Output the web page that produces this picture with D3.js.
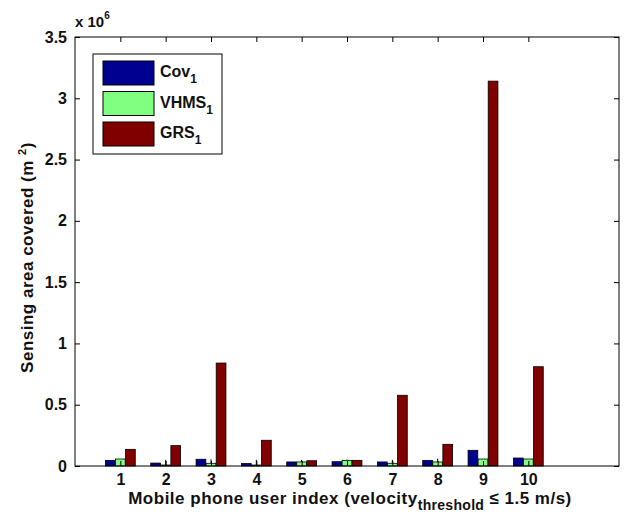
<!DOCTYPE html>
<html>
<head>
<meta charset="utf-8">
<script src="https://cdn.jsdelivr.net/npm/d3@7"></script>
<style>
  html, body { margin: 0; padding: 0; background: #fff; }
  svg { display: block; font-family: "Liberation Sans", Arial, sans-serif; font-weight: bold; }
</style>
</head>
<body>
<svg id="chart" width="633" height="518"></svg>
<script>
// Mobile phone user index (x categories)
const users = [1, 2, 3, 4, 5, 6, 7, 8, 9, 10];
// Sensing area covered, in units of 10^6 m^2
const cov1  = [0.046, 0.024, 0.055, 0.020, 0.033, 0.035, 0.033, 0.046, 0.128, 0.065];
const vhms1 = [0.057, 0.008, 0.022, 0.008, 0.033, 0.046, 0.022, 0.033, 0.057, 0.057];
const grs1  = [0.136, 0.166, 0.840, 0.210, 0.043, 0.046, 0.577, 0.177, 3.140, 0.810];
// Upper whisker ends drawn over the VHMS bars (null = none)
const vhmsErrTop = [null, 0.050, 0.055, 0.050, 0.050, 0.052, 0.050, 0.060, null, null];
const seriesNames = ["Cov", "VHMS", "GRS"];
const seriesColors = ["#000090", "#80ff80", "#800000"];
const yTicks = [0, 0.5, 1, 1.5, 2, 2.5, 3, 3.5];

const svg = d3.select("#chart");
const plotL = 75, plotR = 619, plotT = 37, plotB = 466;

const x = d3.scaleLinear().domain([0, 12]).range([plotL, plotR]);
const y = d3.scaleLinear().domain([0, 3.5]).range([plotB, plotT]);

const series = [cov1, vhms1, grs1];
const step = 0.222, barW = 0.215;

// bars
series.forEach((vals, si) => {
  svg.append("g").selectAll("rect")
    .data(vals)
    .join("rect")
    .attr("x", (d, i) => x(users[i] + (si - 1) * step - barW / 2))
    .attr("width", x(barW) - x(0))
    .attr("y", d => y(d))
    .attr("height", d => y(0) - y(d))
    .attr("fill", seriesColors[si])
    .attr("stroke", "#000")
    .attr("stroke-width", 0.8);
});

// whiskers on VHMS bars
svg.append("g").selectAll("line")
  .data(vhmsErrTop.map((d, i) => ({ tip: d, i })).filter(d => d.tip !== null))
  .join("line")
  .attr("x1", d => x(users[d.i]))
  .attr("x2", d => x(users[d.i]))
  .attr("y1", d => y(vhms1[d.i]))
  .attr("y2", d => y(d.tip))
  .attr("stroke", "#000")
  .attr("stroke-width", 1);

// axes box
const axisStroke = "#000";
svg.append("rect")
  .attr("x", plotL).attr("y", plotT)
  .attr("width", plotR - plotL).attr("height", plotB - plotT)
  .attr("fill", "none").attr("stroke", axisStroke).attr("stroke-width", 1);

const bottomAxis = d3.axisBottom(x).tickValues(users).tickSize(-5).tickPadding(8).tickFormat(d3.format("d"));
const gx = svg.append("g").attr("transform", `translate(0,${plotB})`).call(bottomAxis);
const topAxis = d3.axisTop(x).tickValues(users).tickSize(-5).tickFormat("");
const gxt = svg.append("g").attr("transform", `translate(0,${plotT})`).call(topAxis);
const leftAxis = d3.axisLeft(y).tickValues(yTicks).tickSize(-5).tickPadding(8).tickFormat(d => d3.format("")(d));
const gy = svg.append("g").attr("transform", `translate(${plotL},0)`).call(leftAxis);
const rightAxis = d3.axisRight(y).tickValues(yTicks).tickSize(-5).tickFormat("");
const gyr = svg.append("g").attr("transform", `translate(${plotR},0)`).call(rightAxis);

[gx, gxt, gy, gyr].forEach(g => {
  g.select(".domain").remove();
  g.selectAll(".tick line").attr("stroke", axisStroke);
  g.selectAll("text").attr("fill", "#111").style("font-size", "16px").style("font-weight", "bold")
    .style("font-family", "'Liberation Sans', Arial, sans-serif");
});

// exponent label
const ex = svg.append("text").attr("x", 75).attr("y", 27)
  .style("font-size", "15px").attr("fill", "#111");
ex.append("tspan").text("x 10");
ex.append("tspan").attr("dy", -8).style("font-size", "10px").text("6");

// y axis title
const yl = svg.append("text")
  .attr("transform", `translate(33,${(plotT + plotB) / 2 + 6}) rotate(-90)`)
  .attr("text-anchor", "middle")
  .style("font-size", "17px").style("letter-spacing", "0.5px").attr("fill", "#111");
yl.append("tspan").text("Sensing  area covered (m ");
yl.append("tspan").attr("dy", -7).style("font-size", "11px").text("2");
yl.append("tspan").attr("dy", 7).text(")");

// x axis title
const xl = svg.append("text")
  .attr("x", 350).attr("y", 504)
  .attr("text-anchor", "middle")
  .style("font-size", "17px").style("letter-spacing", "0.5px").attr("fill", "#111");
xl.append("tspan").text("Mobile phone user index (velocity");
xl.append("tspan").attr("dy", 6).style("font-size", "14px").style("letter-spacing", "0.3px").text("threshold");
xl.append("tspan").attr("dy", -6).text(" \u2264 1.5 m/s)");

// legend
const lg = svg.append("g");
lg.append("rect").attr("x", 93).attr("y", 54).attr("width", 129).attr("height", 100)
  .attr("fill", "#fff").attr("stroke", "#000").attr("stroke-width", 1);
seriesNames.forEach((name, i) => {
  const yy = 61 + i * 30.5;
  lg.append("rect").attr("x", 103).attr("y", yy).attr("width", 51).attr("height", 24)
    .attr("fill", seriesColors[i]).attr("stroke", "#000").attr("stroke-width", 1);
  const t = lg.append("text").attr("x", 160).attr("y", yy + 16)
    .style("font-size", "16px").attr("fill", "#111");
  t.append("tspan").text(name);
  t.append("tspan").attr("dy", 6).style("font-size", "12px").text("1");
});
</script>
</body>
</html>
